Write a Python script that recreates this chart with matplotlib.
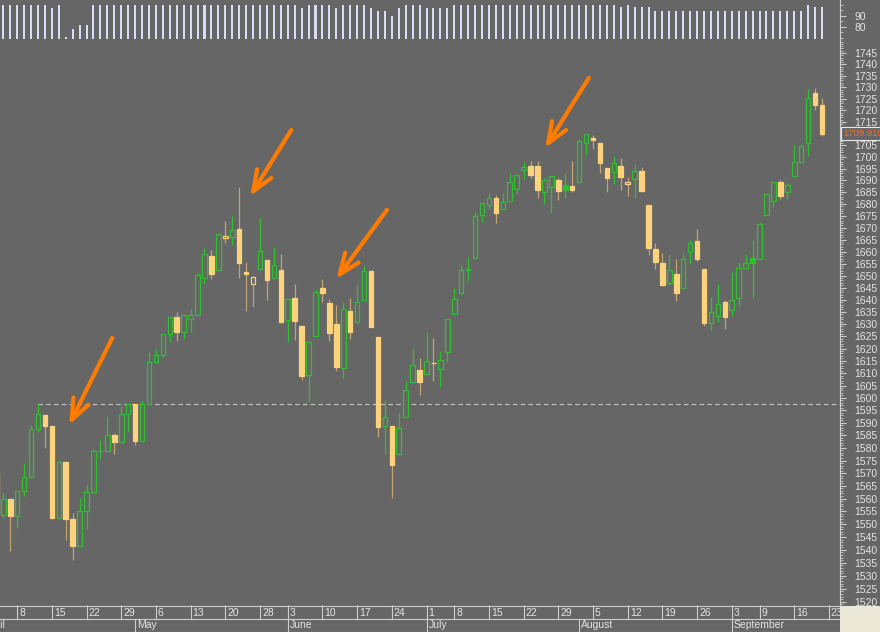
import numpy as np
import pandas as pd
import matplotlib
matplotlib.use("Agg")
import matplotlib.pyplot as plt
from matplotlib import transforms
from matplotlib.patches import Rectangle
from matplotlib.ticker import FixedLocator, FuncFormatter, NullFormatter

plt.rcParams['font.family'] = ['Liberation Sans', 'DejaVu Sans']

# trading days on the time axis (market holidays left out)
holidays = pd.to_datetime(["2013-05-27", "2013-07-04", "2013-09-02"])
days = pd.bdate_range("2013-04-01", "2013-09-23")
days = days[~days.isin(holidays)]

# daily OHLC, 1 Apr - 20 Sep
opens = [
    1569.18, 1562.17, 1570.25, 1553.69, 1559.98, 1553.26, 1563.11, 1568.61, 1587.73, 1593.30, 1588.84,
    1552.36, 1574.57, 1552.03, 1541.61, 1555.25, 1562.50, 1578.78, 1578.78, 1585.16, 1582.34, 1593.58,
    1597.55, 1582.77, 1597.60, 1614.40, 1617.55, 1625.95, 1632.69, 1626.69, 1632.10, 1633.75, 1649.13,
    1658.07, 1652.45, 1665.71, 1666.20, 1669.39, 1651.62, 1646.67, 1652.63, 1656.57, 1649.14, 1652.13,
    1631.71, 1640.73, 1629.05, 1609.29, 1625.27, 1644.67, 1638.64, 1629.94, 1612.15, 1635.52, 1630.64,
    1639.77, 1651.83, 1624.62, 1588.62, 1588.77, 1577.52, 1592.27, 1606.44, 1611.12,
    1609.78, 1614.29, 1611.48, 1618.65, 1634.20, 1642.89, 1652.50, 1657.41, 1675.26, 1679.59, 1682.70,
    1677.91, 1681.05, 1686.15, 1694.41, 1696.06, 1696.06, 1685.21, 1687.31, 1690.32, 1687.92, 1687.76,
    1689.42, 1706.10, 1708.01, 1705.79, 1695.30, 1693.35, 1696.10, 1688.37, 1690.65, 1693.88, 1679.61,
    1661.22, 1655.25, 1646.81, 1650.66, 1645.03, 1659.92, 1664.29, 1652.54, 1630.25, 1633.50, 1638.89,
    1635.95, 1640.72, 1653.28, 1657.44, 1656.85, 1675.11, 1681.04, 1689.21, 1685.04, 1691.70, 1697.73,
    1705.74, 1727.34, 1722.44]
highs = [
    1570.57, 1573.66, 1571.47, 1562.60, 1559.98, 1563.07, 1573.89, 1589.07, 1597.35, 1593.30, 1588.84,
    1575.35, 1574.57, 1554.38, 1560.33, 1565.55, 1579.58, 1583.00, 1592.64, 1585.78, 1596.65, 1597.57,
    1597.55, 1598.60, 1618.46, 1619.77, 1626.03, 1632.78, 1635.01, 1633.70, 1636.00, 1651.10, 1661.49,
    1660.51, 1667.47, 1672.84, 1674.93, 1687.18, 1655.50, 1649.78, 1674.21, 1656.57, 1661.91, 1658.99,
    1640.42, 1646.53, 1629.31, 1622.56, 1644.40, 1648.69, 1640.13, 1637.71, 1639.25, 1640.80, 1646.50,
    1654.19, 1652.45, 1624.62, 1599.19, 1588.77, 1593.79, 1606.83, 1620.07, 1615.94,
    1626.61, 1624.26, 1618.97, 1632.07, 1644.68, 1654.18, 1657.92, 1676.63, 1680.19, 1684.51, 1683.73,
    1684.75, 1693.12, 1692.09, 1697.61, 1698.38, 1698.38, 1690.94, 1691.85, 1690.92, 1693.19, 1698.43,
    1707.85, 1709.67, 1709.24, 1705.79, 1695.30, 1700.18, 1699.42, 1691.49, 1696.81, 1695.52, 1679.61,
    1663.60, 1659.18, 1658.92, 1656.99, 1659.55, 1664.85, 1669.51, 1652.54, 1641.18, 1646.41, 1640.08,
    1651.35, 1655.72, 1659.17, 1664.83, 1672.40, 1684.09, 1689.13, 1689.97, 1688.73, 1704.95, 1705.52,
    1729.44, 1729.86, 1725.23]
lows = [
    1558.47, 1562.17, 1549.80, 1552.52, 1539.50, 1548.63, 1560.92, 1568.61, 1586.17, 1579.97, 1552.28,
    1552.36, 1543.69, 1536.03, 1541.61, 1548.19, 1562.50, 1575.80, 1578.78, 1577.56, 1582.34, 1586.50,
    1581.28, 1582.77, 1597.60, 1614.21, 1616.64, 1622.70, 1623.09, 1623.71, 1626.74, 1633.75, 1646.68,
    1648.60, 1652.45, 1663.52, 1662.67, 1648.86, 1635.53, 1636.88, 1652.63, 1640.05, 1648.61, 1630.74,
    1622.72, 1623.62, 1607.09, 1598.23, 1625.27, 1639.26, 1622.92, 1610.92, 1608.07, 1623.96, 1630.34,
    1639.77, 1628.91, 1584.32, 1577.70, 1560.33, 1577.09, 1592.27, 1606.44, 1601.06,
    1609.78, 1606.77, 1604.57, 1614.71, 1634.20, 1642.89, 1647.66, 1657.41, 1672.33, 1677.89, 1671.84,
    1677.91, 1681.05, 1684.08, 1690.67, 1691.13, 1682.57, 1680.07, 1676.03, 1681.86, 1682.42, 1684.94,
    1689.42, 1700.68, 1703.55, 1693.29, 1684.91, 1688.38, 1686.02, 1683.35, 1682.62, 1684.83, 1658.59,
    1652.61, 1645.84, 1646.08, 1639.43, 1645.03, 1654.81, 1656.02, 1629.05, 1627.47, 1630.88, 1628.05,
    1633.41, 1637.41, 1653.07, 1640.62, 1656.85, 1675.11, 1678.70, 1681.96, 1682.22, 1691.70, 1697.73,
    1700.18, 1720.20, 1708.89]
closes = [
    1562.17, 1570.25, 1553.69, 1559.98, 1553.28, 1563.07, 1568.61, 1587.73, 1593.37, 1588.85, 1552.36,
    1574.57, 1552.01, 1541.61, 1555.25, 1562.50, 1578.78, 1578.79, 1585.16, 1582.24, 1593.61, 1597.57,
    1582.70, 1597.59, 1614.42, 1617.50, 1625.96, 1632.69, 1626.67, 1633.70, 1633.77, 1650.34, 1658.78,
    1650.47, 1667.47, 1666.29, 1669.16, 1655.35, 1650.51, 1649.60, 1660.06, 1648.36, 1654.41, 1630.74,
    1640.42, 1631.38, 1608.90, 1622.56, 1643.38, 1642.81, 1626.13, 1612.52, 1636.36, 1626.73, 1639.04,
    1651.81, 1628.93, 1588.19, 1592.43, 1573.09, 1588.03, 1603.26, 1613.20, 1606.28,
    1614.96, 1614.08, 1615.41, 1631.89, 1640.46, 1652.32, 1652.62, 1675.02, 1680.19, 1682.50, 1676.26,
    1680.91, 1689.37, 1692.09, 1695.53, 1692.39, 1685.94, 1690.25, 1691.65, 1685.33, 1685.96, 1685.73,
    1706.87, 1709.67, 1707.14, 1697.37, 1690.91, 1697.48, 1691.42, 1689.47, 1694.16, 1685.39, 1661.32,
    1655.83, 1646.06, 1652.35, 1642.80, 1656.96, 1663.50, 1656.78, 1630.48, 1634.96, 1638.17, 1632.97,
    1639.77, 1653.08, 1655.08, 1655.17, 1671.71, 1683.99, 1689.13, 1683.42, 1687.99, 1697.60, 1704.76,
    1725.52, 1722.34, 1709.91]

# upper indicator panel
breadth = [
    100, 100, 100, 100, 100, 100, 100, 100, 100, 100, 97, 100, 71, 78, 82, 82, 100, 100, 100, 100, 100, 100,
    100, 100, 100, 100, 100, 100, 100, 100, 100, 100, 100, 100, 100, 100, 100, 100, 100, 100, 100, 100, 100, 100,
    100, 100, 97, 100, 100, 100, 100, 97, 100, 100, 100, 100, 97, 94, 94, 90, 97, 100, 100, 100,
    97, 97, 97, 97, 100, 100, 100, 100, 100, 100, 100, 100, 100, 100, 100, 100, 100, 100, 100, 100, 100, 100,
    100, 100, 100, 100, 100, 100, 98, 100, 98, 98, 98, 94, 94, 94, 94, 94, 94, 94, 94, 94, 94, 94,
    94, 94, 94, 94, 94, 94, 94, 94, 94, 94, 94, 100, 98, 98]

level_day = "2013-04-11"   # dashed line at this day's high

# hand drawn arrows: (from bar, from price, to bar, to price)
arrows = [
    (18.7, 1624.3, 12.5, 1589.2),
    (44.5, 1711.5, 38.6, 1683.3),
    (58.3, 1677.5, 51.0, 1648.6),
    (87.4, 1734.1, 81.1, 1703.8),
]

bg = "#666666"
green = "#2fc02f"
gold = "#fcd27c"
tan = "#c0a370"
grid = "#cdcdcd"
txt = "#e4e4e4"

x = np.arange(len(closes))
o, h, l, c = (np.array(v, dtype=float) for v in (opens, highs, lows, closes))
prev = np.r_[o[0], c[:-1]]
rising = c >= prev
filled = c < o

W, H = 880, 632
fig = plt.figure(figsize=(W / 100, H / 100), dpi=100, facecolor=bg)
ax_ind = fig.add_axes([0, 1 - 40 / H, 840 / W, 40 / H], facecolor=bg)
ax = fig.add_axes([0, 27 / H, 840 / W, 565 / H], facecolor=bg)
ax_d = fig.add_axes([0, 0, 840 / W, 27 / H], facecolor=bg)
xlim = (2.524, 123.6)

# candles: colour from previous close, fill from open
edge = np.where(rising, green, gold).tolist()
face = np.where(filled, edge, bg).tolist()
wick = np.where(rising, green, tan).tolist()
ax.vlines(x, l, h, colors=wick, lw=0.9, zorder=2)
ax.bar(x, np.maximum(np.abs(c - o), 0.05), bottom=np.minimum(o, c), width=0.66,
       color=face, edgecolor=edge, linewidth=0.9, zorder=3)

ax.set_yscale("log")
ax.set_ylim(1518.8, 1750.7)
ax.set_xlim(*xlim)
ax.yaxis.tick_right()
ax.yaxis.set_major_locator(FixedLocator(np.arange(1520, 1750, 5)))
# the 1710 label sits under the last-price tag
ax.yaxis.set_major_formatter(FuncFormatter(lambda v, p: "" if abs(v - c[-1]) < 2.5 else f"{v:.0f}"))
ax.yaxis.set_minor_locator(FixedLocator(np.arange(1519, 1751, 1)))
ax.yaxis.set_minor_formatter(NullFormatter())
ax.tick_params(axis="y", which="major", length=4.5, width=0.8, color=grid,
               labelcolor=txt, labelsize=7.5, pad=6)
ax.tick_params(axis="y", which="minor", length=2.2, width=0.6, color=grid)
ax.set_xticks([])
for s in ("left", "top", "bottom"):
    ax.spines[s].set_visible(False)
ax.spines["right"].set_color(grid)

lvl_i = days.get_loc(pd.Timestamp(level_day))
ax.hlines(h[lvl_i], lvl_i, xlim[1], colors="#c8c8c8", linestyles=(0, (4, 3)), lw=0.8, zorder=1)

for x0, y0, x1, y1 in arrows:
    ax.annotate("", xy=(x1, y1), xytext=(x0, y0),
                arrowprops=dict(arrowstyle="->,head_length=1.5,head_width=0.6", color="#ff7c00",
                                lw=3, shrinkA=0, shrinkB=0, capstyle="round", joinstyle="round"),
                zorder=5)

tag_tr = transforms.blended_transform_factory(ax.transAxes, ax.transData)
ax.text(1.004, c[-1], f"{c[-1]:.3f}", transform=tag_tr, ha="left", va="center", fontsize=6.8,
        color="#ff6a2a", zorder=10, clip_on=False,
        bbox=dict(boxstyle="square,pad=0.2", fc=bg, ec="#e8e8e8", lw=0.8))

# indicator panel
ind_base = 68.8
ax_ind.bar(x, np.array(breadth) - ind_base, bottom=ind_base, width=0.29, color="#dcdcf4", lw=0)
ax_ind.set_xlim(*xlim)
ax_ind.set_ylim(67.9, 104.3)
ax_ind.yaxis.tick_right()
ax_ind.yaxis.set_major_locator(FixedLocator([80, 90]))
ax_ind.yaxis.set_minor_locator(FixedLocator([70, 75, 85, 95, 100]))
ax_ind.yaxis.set_minor_formatter(NullFormatter())
ax_ind.tick_params(axis="y", which="major", length=4.5, width=0.8, color=grid,
                   labelcolor=txt, labelsize=7.5, pad=6)
ax_ind.tick_params(axis="y", which="minor", length=2.2, width=0.6, color=grid)
ax_ind.set_xticks([])
for s in ("left", "top", "bottom"):
    ax_ind.spines[s].set_visible(False)
ax_ind.spines["right"].set_color(grid)

# date rows: week starts, then months
pos = pd.Series(np.arange(len(days)), index=days)
week_pos = pos.groupby(days.to_period("W")).first().values
month_pos = pos.groupby(days.to_period("M")).first().values
ax_d.set_xlim(*xlim)
ax_d.set_ylim(27, 0)
ax_d.axis("off")
for yy in (0.5, 14, 26.5):
    ax_d.axhline(yy, color=grid, lw=0.8)
ax_d.vlines(week_pos, 0, 14, colors=grid, lw=0.8)
ax_d.vlines(month_pos, 14, 27, colors=grid, lw=0.8)
off = transforms.offset_copy(ax_d.transData, fig=fig, x=2, y=0, units="dots")
for p in week_pos:
    if p < xlim[0]:
        continue
    ax_d.text(p, 7.5, str(days[p].day), transform=off, ha="left", va="center",
              fontsize=7.5, color=txt, clip_on=True)
for p in month_pos:
    ax_d.text(p, 20.5, days[p].strftime("%B"), transform=off, ha="left", va="center",
              fontsize=7.5, color=txt, clip_on=True)

fig.add_artist(Rectangle((840 / W, 0), 40 / W, 26 / H, transform=fig.transFigure,
                         fc="#ece9d8", ec="none"))

fig.savefig("out.png", dpi=100, facecolor=bg)
